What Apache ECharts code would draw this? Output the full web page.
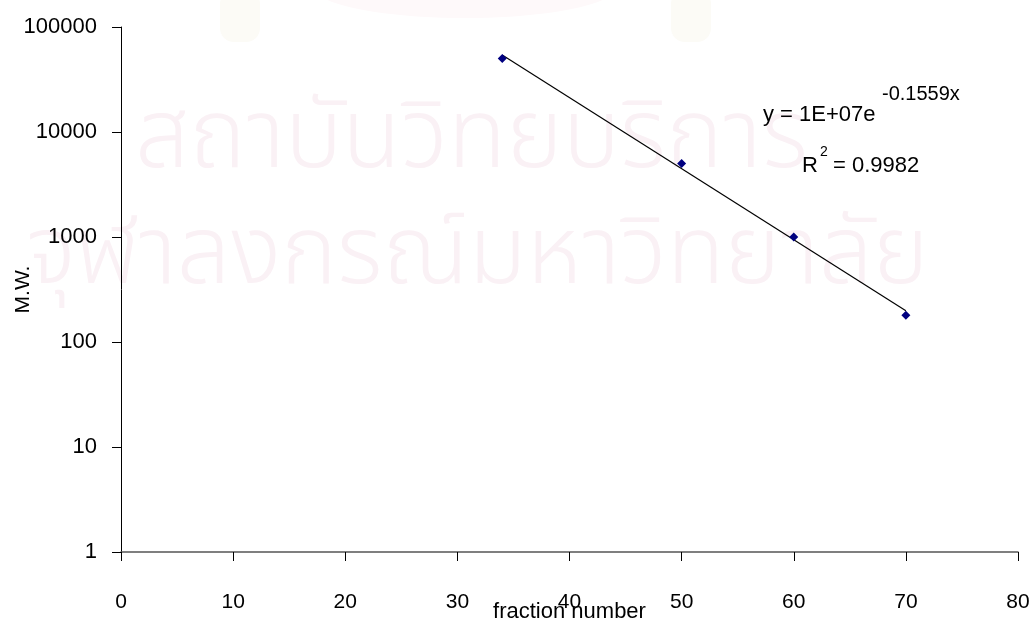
<!DOCTYPE html>
<html>
<head>
<meta charset="utf-8">
<script src="https://cdn.jsdelivr.net/npm/echarts@6/dist/echarts.min.js"></script>
<style>
html,body{margin:0;padding:0;background:#fff;}
#chart{width:1034px;height:628px;}
</style>
</head>
<body>
<div id="chart"></div>
<script>
// Data
const fractionNumbers = [34, 50, 60, 70];
const molecularWeights = [50000, 5000, 1000, 180];
// Exponential trendline endpoints (straight on log axis)
const trendX = [34, 70];
const trendY = [54000, 198];
const xTicks = [0, 10, 20, 30, 40, 50, 60, 70, 80];
const yTicks = [1, 10, 100, 1000, 10000, 100000];
const equationText = 'y = 1E+07e';
const equationExp = '-0.1559x';
const r2Label = 'R';
const r2Exp = '2';
const r2Value = '= 0.9982';
const watermark1 = 'สถาบันวิทยบริการ';
const watermark2 = 'จุฬาลงกรณ์มหาวิทยาลัย';

const font = '"Liberation Sans", Arial, sans-serif';
const thaiFont = '"Noto Sans Thai", "Noto Sans", sans-serif';
const wmColor = '#faf1f5';
const chart = echarts.init(document.getElementById('chart'), null, {renderer: 'canvas'});

const pointData = fractionNumbers.map((x, i) => [x, molecularWeights[i]]);
const trendData = trendX.map((x, i) => [x, trendY[i]]);

chart.setOption({
  backgroundColor: '#ffffff',
  animation: false,
  textStyle: {fontFamily: font},
  graphic: [
    // faint emblem at the top (watermark)
    {type: 'rect', z: -20, silent: true, shape: {x: 220, y: -10, width: 40, height: 52, r: 14}, style: {fill: '#fcfbf6'}},
    {type: 'rect', z: -20, silent: true, shape: {x: 671, y: -10, width: 40, height: 52, r: 14}, style: {fill: '#fcfbf6'}},
    {type: 'ellipse', z: -20, silent: true, shape: {cx: 465, cy: -12, rx: 150, ry: 30}, style: {fill: '#fef9fa'}},
    {type: 'text', left: 135, top: 100, z: -10, silent: true,
     style: {text: watermark1, font: '300 96px ' + thaiFont, fill: wmColor}},
    {type: 'text', left: 26, top: 216, z: -10, silent: true,
     style: {text: watermark2, font: '300 95px ' + thaiFont, fill: wmColor}},
    {type: 'text', left: 763, top: 104, style: {text: equationText, font: '22px ' + font, fill: '#000'}},
    {type: 'text', left: 882, top: 84, style: {text: equationExp, font: '20px ' + font, fill: '#000'}},
    {type: 'text', left: 802, top: 155, style: {text: r2Label, font: '22px ' + font, fill: '#000'}},
    {type: 'text', left: 820, top: 145, style: {text: r2Exp, font: '14px ' + font, fill: '#000'}},
    {type: 'text', left: 833, top: 155, style: {text: r2Value, font: '22px ' + font, fill: '#000'}}
  ],
  grid: {left: 121, right: 16, top: 27, bottom: 74, containLabel: false},
  xAxis: {
    type: 'value', min: 0, max: 80, interval: 10,
    name: 'fraction number', nameLocation: 'middle', nameGap: 49, nameMoveOverlap: false,
    nameTextStyle: {fontSize: 22, color: '#000', fontFamily: font},
    axisLine: {show: true, onZero: false, lineStyle: {color: '#555', width: 1.5}},
    axisTick: {show: true, inside: false, length: 9, lineStyle: {color: '#000'}},
    axisLabel: {margin: 40, fontSize: 21, color: '#000', fontFamily: font, hideOverlap: false,
      formatter: v => xTicks.includes(v) ? String(v) : ''},
    splitLine: {show: false}
  },
  yAxis: {
    type: 'log', logBase: 10, min: 1, max: 100000,
    name: 'M.W.', nameLocation: 'middle', nameRotate: 90, nameGap: 87, nameMoveOverlap: false,
    nameTextStyle: {fontSize: 21, color: '#000', fontFamily: font},
    axisLine: {show: true, lineStyle: {color: '#000', width: 1}},
    axisTick: {show: true, inside: false, length: 9, lineStyle: {color: '#000'}},
    axisLabel: {margin: 24, fontSize: 22, color: '#000', fontFamily: font, hideOverlap: false,
      formatter: v => { const r = Math.round(v); return yTicks.includes(r) ? String(r) : ''; }},
    splitLine: {show: false},
    minorTick: {show: false}
  },
  series: [
    {type: 'line', data: trendData, showSymbol: false, symbol: 'none',
     lineStyle: {color: '#000', width: 1.2}, z: 2, silent: true},
    {type: 'scatter', data: pointData, symbol: 'diamond', symbolSize: 9,
     itemStyle: {color: '#000080', opacity: 1}, z: 3}
  ]
});
</script>
</body>
</html>
